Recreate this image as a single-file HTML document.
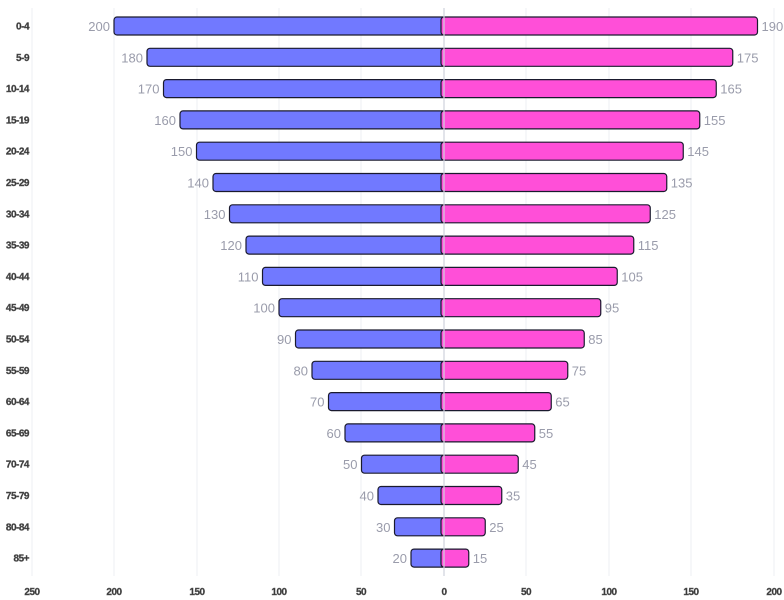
<!DOCTYPE html>
<html><head><meta charset="utf-8"><style>
body{margin:0;background:#fff}
svg{display:block}
.v{font:13px "Liberation Sans",sans-serif;fill:#9a9cab}
.y{font:bold 10px "Liberation Sans",sans-serif;fill:#333;stroke:#666;stroke-width:0.4;letter-spacing:-0.5px}
.x{font:bold 10px "Liberation Sans",sans-serif;fill:#333;stroke:#666;stroke-width:0.4;letter-spacing:-0.5px}
.L{fill:#7179ff;stroke:#1a1a2e;stroke-width:1.2}
.R{fill:#ff4fd8;stroke:#1a1a2e;stroke-width:1.2}
</style></head><body>
<svg width="784" height="600" viewBox="0 0 784 600">
<g stroke="#eeeff3" stroke-width="1">
<line x1="32" y1="8" x2="32" y2="576"/><line x1="114" y1="8" x2="114" y2="576"/><line x1="197" y1="8" x2="197" y2="576"/><line x1="279" y1="8" x2="279" y2="576"/><line x1="361" y1="8" x2="361" y2="576"/><line x1="526" y1="8" x2="526" y2="576"/><line x1="609" y1="8" x2="609" y2="576"/><line x1="691" y1="8" x2="691" y2="576"/><line x1="774" y1="8" x2="774" y2="576"/>
</g>
<g>
<rect class="L" x="114" y="17" width="333" height="18" rx="3"/><rect class="R" x="441" y="17" width="316.5" height="18" rx="3"/>
<rect class="L" x="147" y="48.3" width="300" height="18" rx="3"/><rect class="R" x="441" y="48.3" width="291.75" height="18" rx="3"/>
<rect class="L" x="163.5" y="79.6" width="283.5" height="18" rx="3"/><rect class="R" x="441" y="79.6" width="275.25" height="18" rx="3"/>
<rect class="L" x="180" y="110.9" width="267" height="18" rx="3"/><rect class="R" x="441" y="110.9" width="258.75" height="18" rx="3"/>
<rect class="L" x="196.5" y="142.2" width="250.5" height="18" rx="3"/><rect class="R" x="441" y="142.2" width="242.25" height="18" rx="3"/>
<rect class="L" x="213" y="173.5" width="234" height="18" rx="3"/><rect class="R" x="441" y="173.5" width="225.75" height="18" rx="3"/>
<rect class="L" x="229.5" y="204.8" width="217.5" height="18" rx="3"/><rect class="R" x="441" y="204.8" width="209.25" height="18" rx="3"/>
<rect class="L" x="246" y="236.1" width="201" height="18" rx="3"/><rect class="R" x="441" y="236.1" width="192.75" height="18" rx="3"/>
<rect class="L" x="262.5" y="267.4" width="184.5" height="18" rx="3"/><rect class="R" x="441" y="267.4" width="176.25" height="18" rx="3"/>
<rect class="L" x="279" y="298.7" width="168" height="18" rx="3"/><rect class="R" x="441" y="298.7" width="159.75" height="18" rx="3"/>
<rect class="L" x="295.5" y="330" width="151.5" height="18" rx="3"/><rect class="R" x="441" y="330" width="143.25" height="18" rx="3"/>
<rect class="L" x="312" y="361.3" width="135" height="18" rx="3"/><rect class="R" x="441" y="361.3" width="126.75" height="18" rx="3"/>
<rect class="L" x="328.5" y="392.6" width="118.5" height="18" rx="3"/><rect class="R" x="441" y="392.6" width="110.25" height="18" rx="3"/>
<rect class="L" x="345" y="423.9" width="102" height="18" rx="3"/><rect class="R" x="441" y="423.9" width="93.75" height="18" rx="3"/>
<rect class="L" x="361.5" y="455.2" width="85.5" height="18" rx="3"/><rect class="R" x="441" y="455.2" width="77.25" height="18" rx="3"/>
<rect class="L" x="378" y="486.5" width="69" height="18" rx="3"/><rect class="R" x="441" y="486.5" width="60.75" height="18" rx="3"/>
<rect class="L" x="394.5" y="517.8" width="52.5" height="18" rx="3"/><rect class="R" x="441" y="517.8" width="44.25" height="18" rx="3"/>
<rect class="L" x="411" y="549.1" width="36" height="18" rx="3"/><rect class="R" x="441" y="549.1" width="27.75" height="18" rx="3"/>
</g>
<line x1="444" y1="8" x2="444" y2="576" stroke="#cfd2dc" stroke-width="1.2"/>
<g class="v" text-anchor="end">
<text x="110" y="31">200</text><text x="143" y="62.3">180</text><text x="159.5" y="93.6">170</text><text x="176" y="124.9">160</text><text x="192.5" y="156.2">150</text><text x="209" y="187.5">140</text><text x="225.5" y="218.8">130</text><text x="242" y="250.1">120</text><text x="258.5" y="281.4">110</text><text x="275" y="312.7">100</text><text x="291.5" y="344">90</text><text x="308" y="375.3">80</text><text x="324.5" y="406.6">70</text><text x="341" y="437.9">60</text><text x="357.5" y="469.2">50</text><text x="374" y="500.5">40</text><text x="390.5" y="531.8">30</text><text x="407" y="563.1">20</text>
</g>
<g class="v">
<text x="761.5" y="31">190</text><text x="736.75" y="62.3">175</text><text x="720.25" y="93.6">165</text><text x="703.75" y="124.9">155</text><text x="687.25" y="156.2">145</text><text x="670.75" y="187.5">135</text><text x="654.25" y="218.8">125</text><text x="637.75" y="250.1">115</text><text x="621.25" y="281.4">105</text><text x="604.75" y="312.7">95</text><text x="588.25" y="344">85</text><text x="571.75" y="375.3">75</text><text x="555.25" y="406.6">65</text><text x="538.75" y="437.9">55</text><text x="522.25" y="469.2">45</text><text x="505.75" y="500.5">35</text><text x="489.25" y="531.8">25</text><text x="472.75" y="563.1">15</text>
</g>
<g class="y" text-anchor="end">
<text x="29" y="29.5">0-4</text><text x="29" y="60.8">5-9</text><text x="29" y="92.1">10-14</text><text x="29" y="123.4">15-19</text><text x="29" y="154.7">20-24</text><text x="29" y="186">25-29</text><text x="29" y="217.3">30-34</text><text x="29" y="248.6">35-39</text><text x="29" y="279.9">40-44</text><text x="29" y="311.2">45-49</text><text x="29" y="342.5">50-54</text><text x="29" y="373.8">55-59</text><text x="29" y="405.1">60-64</text><text x="29" y="436.4">65-69</text><text x="29" y="467.7">70-74</text><text x="29" y="499">75-79</text><text x="29" y="530.3">80-84</text><text x="29" y="561.6">85+</text>
</g>
<g class="x" text-anchor="middle">
<text x="32" y="595">250</text><text x="114" y="595">200</text><text x="197" y="595">150</text><text x="279" y="595">100</text><text x="361" y="595">50</text><text x="444" y="595">0</text><text x="526" y="595">50</text><text x="609" y="595">100</text><text x="691" y="595">150</text><text x="774" y="595">200</text>
</g>
</svg>
</body></html>
